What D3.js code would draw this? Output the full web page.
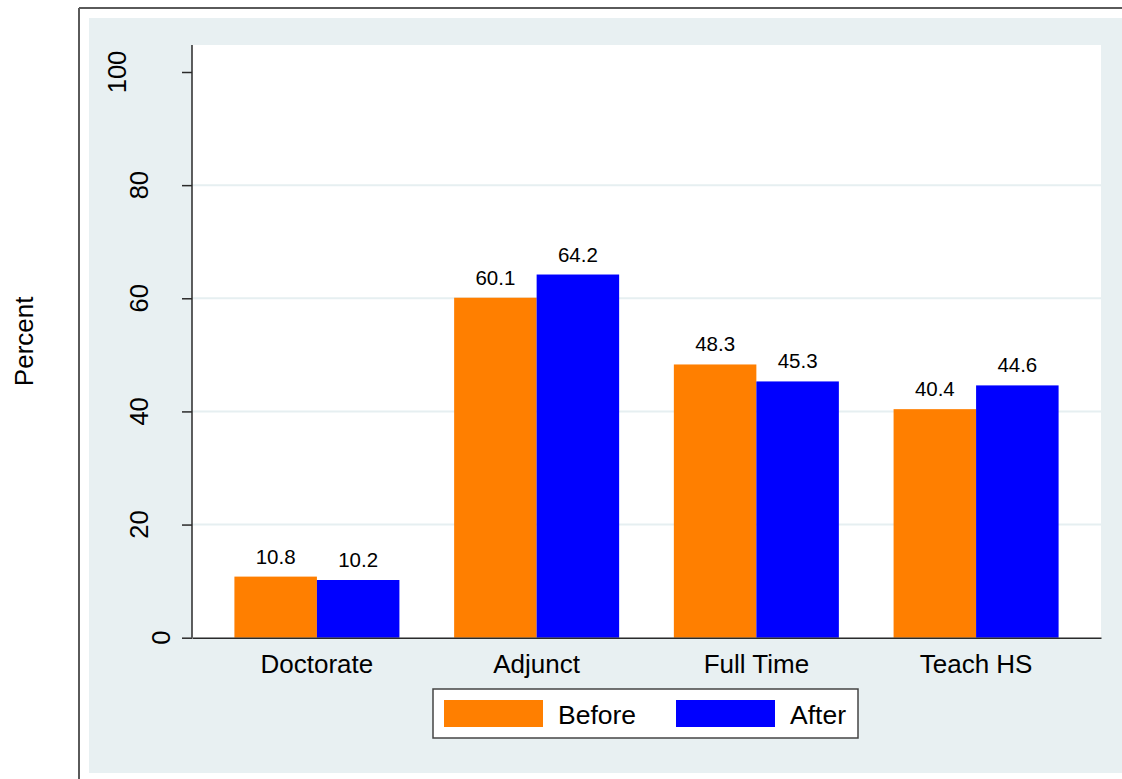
<!DOCTYPE html>
<html>
<head>
<meta charset="utf-8">
<script src="https://cdn.jsdelivr.net/npm/d3@7"></script>
<style>
  html, body { margin: 0; padding: 0; background: #ffffff; }
  svg { display: block; }
  text { font-family: "Liberation Sans", Arial, Helvetica, sans-serif; fill: #000; }
</style>
</head>
<body>
<svg id="chart" width="1122" height="779"></svg>
<script>
const categories = ["Doctorate", "Adjunct", "Full Time", "Teach HS"];
const seriesNames = ["Before", "After"];
const beforeValues = [10.8, 60.1, 48.3, 40.4];
const afterValues = [10.2, 64.2, 45.3, 44.6];
const yTicks = [0, 20, 40, 60, 80, 100];
const gridTicks = [20, 40, 60, 80];
const yTitle = "Percent";
const colors = ["#ff7f00", "#0000ff"];

const svg = d3.select("#chart");
const W = 1122, H = 779;

// outer frame lines
svg.append("rect").attr("x", 0).attr("y", 0).attr("width", W).attr("height", H).attr("fill", "#ffffff");
svg.append("line").attr("x1", 79).attr("x2", W).attr("y1", 8).attr("y2", 8)
  .attr("stroke", "#5a5a5a").attr("stroke-width", 2);
svg.append("line").attr("x1", 79).attr("x2", 79).attr("y1", 8).attr("y2", H)
  .attr("stroke", "#5a5a5a").attr("stroke-width", 2);

// graph background
svg.append("rect").attr("x", 89).attr("y", 18).attr("width", W - 89).attr("height", 773 - 18)
  .attr("fill", "#e8f0f2");

const plot = { left: 192, right: 1101, top: 45, bottom: 637.7 };

// plot region
svg.append("rect").attr("x", plot.left).attr("y", plot.top)
  .attr("width", plot.right - plot.left).attr("height", plot.bottom - plot.top)
  .attr("fill", "#ffffff");

const y = d3.scaleLinear().domain([0, 100]).range([plot.bottom, 72]);
const x0 = d3.scaleBand().domain(categories).range([plot.left, plot.right])
  .paddingInner(0.249).paddingOuter(0.193);
const x1 = d3.scaleBand().domain(seriesNames).range([0, x0.bandwidth()]).padding(0);

// gridlines
svg.append("g").selectAll("line").data(gridTicks).join("line")
  .attr("x1", plot.left).attr("x2", plot.right)
  .attr("y1", d => y(d)).attr("y2", d => y(d))
  .attr("stroke", "#e6eff1").attr("stroke-width", 2);

// bars
const data = categories.map((c, i) => ({ cat: c, vals: [beforeValues[i], afterValues[i]] }));
const groups = svg.append("g").selectAll("g").data(data).join("g")
  .attr("transform", d => `translate(${x0(d.cat)},0)`);
groups.selectAll("rect").data(d => d.vals.map((v, j) => ({ s: seriesNames[j], v, j }))).join("rect")
  .attr("x", d => x1(d.s)).attr("width", x1.bandwidth())
  .attr("y", d => y(d.v)).attr("height", d => y(0) - y(d.v))
  .attr("fill", d => colors[d.j]);
groups.selectAll("text").data(d => d.vals.map((v, j) => ({ s: seriesNames[j], v, j }))).join("text")
  .attr("x", d => x1(d.s) + x1.bandwidth() / 2)
  .attr("y", d => y(d.v) - 13)
  .attr("text-anchor", "middle")
  .attr("font-size", 20.5)
  .text(d => d3.format(".1f")(d.v));

// y axis
const yAxis = d3.axisLeft(y).tickValues(yTicks).tickSize(10).tickFormat("");
const yg = svg.append("g").attr("transform", `translate(${plot.left},0)`).call(yAxis);
yg.select(".domain").attr("d", `M0,${plot.top}V${plot.bottom}`).attr("stroke", "#2a2a2a").attr("stroke-width", 1.5);
yg.selectAll(".tick line").attr("stroke", "#2a2a2a").attr("stroke-width", 1.5);
// rotated tick labels
svg.append("g").selectAll("text").data(yTicks).join("text")
  .attr("transform", d => {
    const n = String(d).length;
    const cx = 182.5 - 22 * n;
    return `translate(${cx},${y(d)}) rotate(-90)`;
  })
  .attr("text-anchor", "middle")
  .attr("dy", "0.36em")
  .attr("font-size", 25.5)
  .text(d => d);

// x axis
const xAxis = d3.axisBottom(x0).tickSize(0).tickFormat("");
const xg = svg.append("g").attr("transform", `translate(0,${plot.bottom})`).call(xAxis);
xg.select(".domain").attr("stroke", "#2a2a2a").attr("stroke-width", 1.5);
svg.append("g").selectAll("text").data(categories).join("text")
  .attr("x", d => x0(d) + x0.bandwidth() / 2)
  .attr("y", 673)
  .attr("text-anchor", "middle")
  .attr("font-size", 26)
  .text(d => d);

// y title
svg.append("text")
  .attr("transform", `translate(33,${(plot.top + plot.bottom) / 2}) rotate(-90)`)
  .attr("text-anchor", "middle")
  .attr("font-size", 26)
  .text(yTitle);

// legend
const lg = svg.append("g");
lg.append("rect").attr("x", 433).attr("y", 689).attr("width", 858 - 433).attr("height", 738 - 689)
  .attr("fill", "#ffffff").attr("stroke", "#444").attr("stroke-width", 1.5);
const legendItems = seriesNames.map((s, i) => ({ s, i }));
const itemX = [444, 676];
lg.selectAll("rect.sw").data(legendItems).join("rect").attr("class", "sw")
  .attr("x", d => itemX[d.i]).attr("y", 700).attr("width", 99).attr("height", 27)
  .attr("fill", d => colors[d.i]);
lg.selectAll("text").data(legendItems).join("text")
  .attr("x", d => itemX[d.i] + 114).attr("y", 724)
  .attr("font-size", 26.5)
  .text(d => d.s);
</script>
</body>
</html>
